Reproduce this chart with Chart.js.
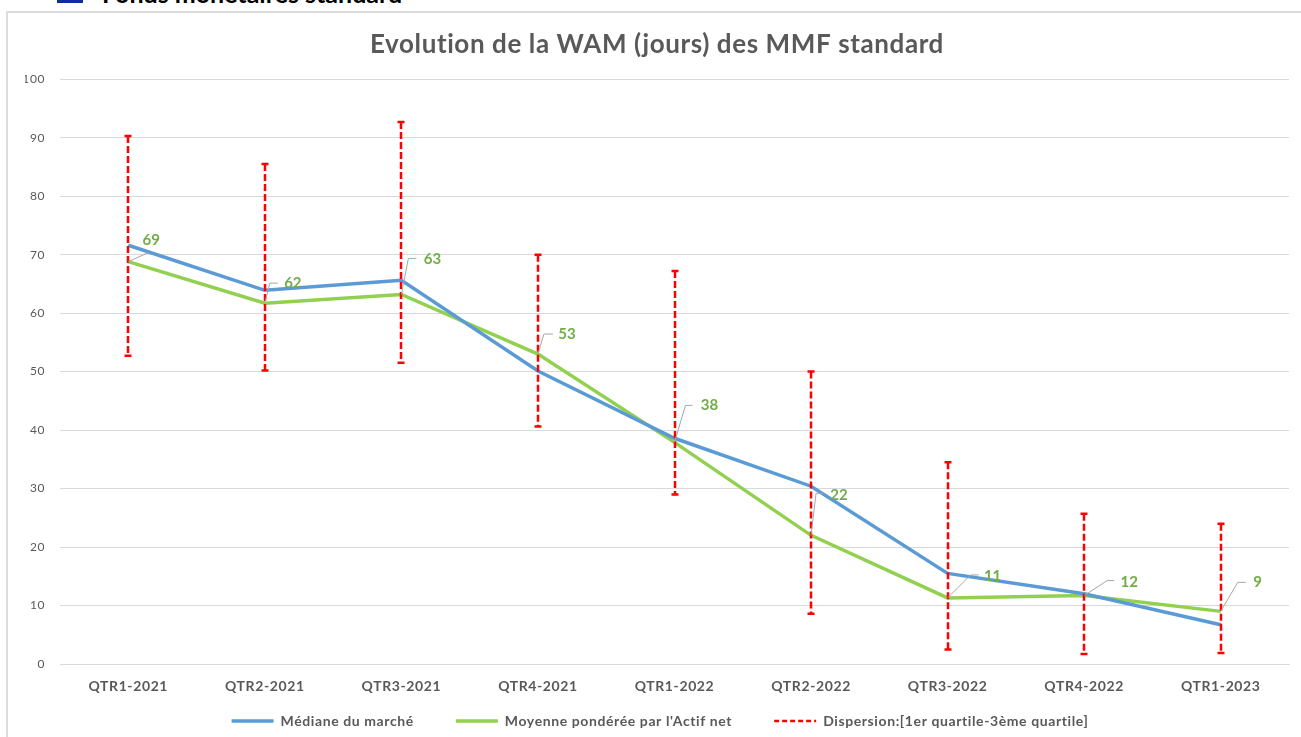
<!DOCTYPE html>
<html lang="fr">
<head>
    <meta charset="UTF-8">
    <title>Evolution de la WAM</title>
    <script src="https://cdn.jsdelivr.net/npm/chart.js@4.4.1/dist/chart.umd.js"></script>
    <style>
        html, body { margin: 0; padding: 0; width: 1301px; height: 737px; overflow: hidden; background: #fff; }
        .heading { position: absolute; left: 102px; top: -22px; font: bold 25px Lato, sans-serif; color: #000; white-space: nowrap; }
        .heading-box { position: absolute; left: 57px; top: 0; width: 26px; height: 3px; background: #0b2f9e; }
        .card { position: absolute; left: 6px; top: 11px; width: 1310px; height: 740px; border: 2px solid #dcdcdc; box-sizing: border-box; }
        #chart { position: absolute; left: 7px; top: 12px; }
    </style>
</head>
<body>
    <div class="heading-box"></div>
    <div class="heading">Fonds monétaires standard</div>
    <div class="card"></div>
    <canvas id="chart" width="1300" height="730"></canvas>

    <script>
        const quarters = ['QTR1-2021', 'QTR2-2021', 'QTR3-2021', 'QTR4-2021', 'QTR1-2022', 'QTR2-2022', 'QTR3-2022', 'QTR4-2022', 'QTR1-2023'];
        const median = [71.6, 63.9, 65.6, 50.1, 38.6, 30.4, 15.5, 12.0, 6.7];
        const weightedMean = [68.8, 61.7, 63.2, 53.0, 37.9, 22.0, 11.3, 11.7, 9.0];
        const thirdQuartile = [90.3, 85.5, 92.7, 70.0, 67.2, 50.0, 34.5, 25.7, 24.0];
        const firstQuartile = [52.7, 50.2, 51.5, 40.6, 29.0, 8.6, 2.5, 1.7, 1.9];
        const yTicks = [0, 10, 20, 30, 40, 50, 60, 70, 80, 90, 100];

        // leader line elbows and label centres, in px from the point
        const leaderElbow = [[20, -9], [5, -20], [7, -36], [6, -20], [11, -37], [5, -42], [23, -23], [23, -15], [17, -29]];
        const leaderEnd = [[20, -9], [13, -20], [15, -36], [15, -20], [18, -37], [12, -42], [31, -23], [30, -15], [25, -29]];
        const labelCentre = [[23, -22], [28, -20], [31, -35], [29, -20], [35, -37], [28, -40], [45, -22], [45, -13], [37, -29]];

        // wider text like the original export
        const textSpacing = {
            id: 'textSpacing',
            beforeUpdate(chart) { chart.ctx.letterSpacing = '0.6px'; },
            beforeDraw(chart) { chart.ctx.letterSpacing = '0.6px'; },
            afterLayout(chart) {
                // the x labels get clipped to the scale box, the box is kept short for the legend
                chart.scales.x.bottom += 35;
                chart.legend.left += 3;
                chart.legend.right += 3;
            }
        };

        // 1st-3rd quartile ranges, dashed with small caps
        const errorBars = {
            id: 'errorBars',
            afterDatasetsDraw(chart) {
                const { ctx, scales: { x, y } } = chart;
                ctx.save();
                ctx.strokeStyle = '#ff0000';
                quarters.forEach((q, i) => {
                    const px = Math.round(x.getPixelForValue(i));
                    const top = y.getPixelForValue(thirdQuartile[i]);
                    const bottom = y.getPixelForValue(firstQuartile[i]);
                    ctx.lineWidth = 2.5;
                    ctx.setLineDash([7, 3]);
                    ctx.beginPath();
                    ctx.moveTo(px, top);
                    ctx.lineTo(px, bottom);
                    ctx.stroke();
                    ctx.setLineDash([]);
                    ctx.beginPath();
                    ctx.moveTo(px - 3.5, top);
                    ctx.lineTo(px + 3.5, top);
                    ctx.moveTo(px - 3.5, bottom);
                    ctx.lineTo(px + 3.5, bottom);
                    ctx.stroke();
                });
                ctx.restore();
            }
        };

        // data labels of the weighted mean with their grey leader lines
        const meanLabels = {
            id: 'meanLabels',
            afterDraw(chart) {
                const { ctx, scales: { x, y } } = chart;
                ctx.save();
                ctx.letterSpacing = '0px';
                weightedMean.forEach((v, i) => {
                    const px = x.getPixelForValue(i);
                    const py = y.getPixelForValue(v);
                    ctx.strokeStyle = '#a6a6a6';
                    ctx.lineWidth = 1;
                    ctx.beginPath();
                    ctx.moveTo(px, py);
                    ctx.lineTo(px + leaderElbow[i][0], py + leaderElbow[i][1]);
                    ctx.lineTo(px + leaderEnd[i][0], py + leaderEnd[i][1]);
                    ctx.stroke();
                    ctx.fillStyle = '#70ad47';
                    ctx.font = 'bold 15px Lato, sans-serif';
                    ctx.textAlign = 'center';
                    ctx.textBaseline = 'middle';
                    ctx.fillText(Math.round(v), px + labelCentre[i][0], py + labelCentre[i][1]);
                });
                ctx.restore();
            }
        };

        new Chart(document.getElementById('chart'), {
            type: 'line',
            data: {
                labels: quarters,
                datasets: [{
                    label: 'Médiane du marché',
                    data: median,
                    borderColor: '#5b9bd5',
                    backgroundColor: '#5b9bd5',
                    borderWidth: 3.5,
                    pointRadius: 0,
                    tension: 0
                }, {
                    label: "Moyenne pondérée par l'Actif net",
                    data: weightedMean,
                    borderColor: '#92d050',
                    backgroundColor: '#92d050',
                    borderWidth: 3.5,
                    pointRadius: 0,
                    tension: 0
                }, {
                    label: 'Dispersion:[1er quartile-3ème quartile]',
                    data: thirdQuartile,
                    borderColor: '#ff0000',
                    backgroundColor: '#ff0000',
                    borderWidth: 2.5,
                    borderDash: [5, 3],
                    showLine: false,
                    pointRadius: 0
                }]
            },
            options: {
                responsive: false,
                animation: false,
                layout: { padding: { left: 18, right: 18, top: 0, bottom: 4 } },
                scales: {
                    x: {
                        offset: true,
                        afterFit(scale) { scale.height = 8; },
                        grid: { display: false },
                        border: { color: '#d9d9d9' },
                        ticks: { color: '#595959', font: { family: 'Lato', weight: 'bold', size: 14 }, padding: 6, maxRotation: 0, autoSkip: false }
                    },
                    y: {
                        min: 0,
                        max: 100,
                        afterBuildTicks(scale) { scale.ticks = yTicks.map(value => ({ value })); },
                        afterFit(scale) { scale.width = 35; },
                        grid: { color: '#d9d9d9', tickLength: 0 },
                        border: { display: false },
                        ticks: { color: '#595959', font: { family: 'Lato', size: 12 }, padding: 15 }
                    }
                },
                plugins: {
                    title: {
                        display: true,
                        text: 'Evolution de la WAM (jours) des MMF standard',
                        color: '#595959',
                        font: { family: 'Lato', weight: 'bold', size: 26 },
                        padding: { top: 17, bottom: 19 }
                    },
                    legend: {
                        position: 'bottom',
                        labels: {
                            color: '#595959',
                            font: { family: 'Lato', weight: 'bold', size: 14 },
                            usePointStyle: true,
                            pointStyle: 'line',
                            pointStyleWidth: 42,
                            padding: 42,
                            boxHeight: 13,
                            generateLabels(chart) {
                                return chart.data.datasets.map((d, i) => ({
                                    text: d.label,
                                    datasetIndex: i,
                                    fontColor: '#595959',
                                    strokeStyle: d.borderColor,
                                    fillStyle: d.borderColor,
                                    lineWidth: d.borderWidth,
                                    lineDash: d.borderDash || [],
                                    pointStyle: 'line'
                                }));
                            }
                        }
                    },
                    tooltip: { enabled: false }
                }
            },
            plugins: [textSpacing, errorBars, meanLabels]
        });
    </script>
</body>
</html>
